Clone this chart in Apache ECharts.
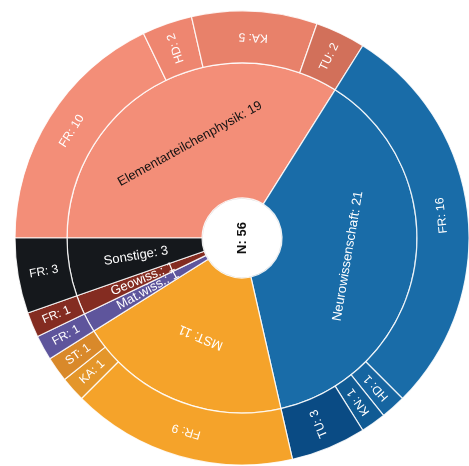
<!DOCTYPE html>
<html>
<head>
<meta charset="utf-8">
<script src="https://cdn.jsdelivr.net/npm/echarts@6/dist/echarts.min.js"></script>
<style>
html, body { margin: 0; padding: 0; background: #fff; }
#chart { width: 469px; height: 466px; }
</style>
</head>
<body>
<div id="chart"></div>
<script>
// data
var rootName = 'N';
var fields = ['Elementarteilchenphysik', 'Neurowissenschaft', 'MST', 'Mat.wiss.', 'Geowiss.', 'Sonstige'];
var fieldValues = [19, 21, 11, 1, 1, 3];
var sites = [['FR', 'HD', 'KA', 'TU'], ['FR', 'HD', 'KN', 'TU'], ['FR', 'KA', 'ST'], ['FR'], ['FR'], ['FR']];
var siteValues = [[10, 2, 5, 2], [16, 1, 1, 3], [9, 1, 1], [1], [1], [3]];

// colours
var fieldColors = ['#f38e78', '#196ca8', '#f5a32a', '#5e559c', '#842c21', '#15181c'];
var siteColors = [
    ['#f38e78', '#ee8670', '#e8816a', '#d2705a'],
    ['#196ca8', '#1665a1', '#105b94', '#0a4b84'],
    ['#f5a32a', '#e4962a', '#d9892a'],
    ['#5e559c'],
    ['#842c21'],
    ['#15181c']
];
var darkText = { 'Elementarteilchenphysik': true };

var total = fieldValues.reduce(function (a, b) { return a + b; }, 0);
var startAngle = 180;

// wide slices get tangential labels, narrow ones radial
// (flip rule as in the original picture, so some come out upside down)
function labelRotate(mid, span) {
    var rad = mid * Math.PI / 180;
    if (span > 25) {
        return Math.cos(rad) > 0 ? mid + 90 : mid - 90;
    }
    return Math.sin(rad) > 0 ? mid : mid + 180;
}

var children = [];
var acc = 0;
fields.forEach(function (f, i) {
    var span = fieldValues[i] / total * 360;
    var mid = startAngle - (acc + fieldValues[i] / 2) / total * 360;
    var sub = [];
    var acc2 = acc;
    sites[i].forEach(function (s, j) {
        var v = siteValues[i][j];
        var m = startAngle - (acc2 + v / 2) / total * 360;
        sub.push({
            name: s,
            value: v,
            itemStyle: { color: siteColors[i][j] },
            label: { rotate: labelRotate(m, v / total * 360), color: '#fff', fontSize: 12 }
        });
        acc2 += v;
    });
    children.push({
        name: f,
        value: fieldValues[i],
        itemStyle: { color: fieldColors[i] },
        label: {
            rotate: labelRotate(mid, span),
            color: darkText[f] ? '#111' : '#fff',
            fontSize: 13
        },
        children: sub
    });
    acc += fieldValues[i];
});

var chart = echarts.init(document.getElementById('chart'));
chart.setOption({
    animation: false,
    series: [{
        type: 'sunburst',
        center: [242, 238],
        startAngle: startAngle,
        sort: null,
        nodeClick: false,
        emphasis: { disabled: true },
        itemStyle: { borderColor: 'rgba(255,255,255,0.85)', borderWidth: 1.2 },
        label: {
            fontFamily: 'Liberation Sans, Arial, sans-serif',
            formatter: '{b}: {c}'
        },
        levels: [
            {},
            {
                r0: 0, r: 40,
                itemStyle: { color: '#fff', borderColor: '#d8d8d8', borderWidth: 1.5 },
                label: { rotate: 90, color: '#111', fontWeight: 'bold', fontSize: 13 }
            },
            { r0: 40, r: 175 },
            { r0: 175, r: 227 }
        ],
        data: [{
            name: rootName,
            value: total,
            children: children
        }]
    }]
});
</script>
</body>
</html>
